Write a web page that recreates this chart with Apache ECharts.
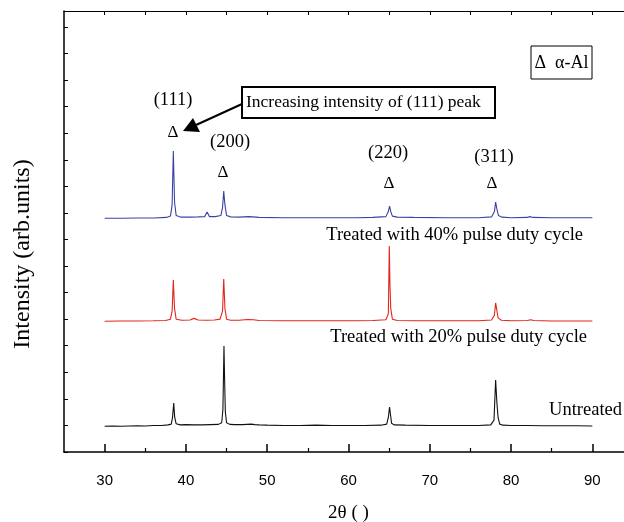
<!DOCTYPE html>
<html>
<head>
<meta charset="utf-8">
<script src="https://cdn.jsdelivr.net/npm/echarts@6/dist/echarts.min.js"></script>
<style>html,body{margin:0;padding:0;background:#fff}#chart{width:624px;height:522px}</style>
</head>
<body>
<div id="chart"></div>
<script>
// XRD patterns: [2theta (deg), intensity (arb. units, stacked offsets)]
const untreated = [[30,0.97],[31,0.98],[32,0.97],[33,0.98],[34,0.99],[35,0.98],[36,1.00],[37,1.00],[37.8,1.02],[38.2,1.05],[38.35,1.3],[38.5,1.84],[38.62,1.3],[38.8,1.06],[39.3,1.02],[40,1.03],[41,1.02],[42,1.02],[43,1.03],[44,1.04],[44.4,1.1],[44.55,1.6],[44.68,3.99],[44.76,2.71],[44.85,1.5],[45.0,1.1],[45.4,1.04],[46,1.03],[47,1.03],[48,1.05],[48.5,1.03],[49,1.02],[50,1.01],[52,1.0],[54,1.0],[56,1.01],[58,1.0],[60,1.0],[62,1.0],[64,1.01],[64.7,1.05],[64.9,1.3],[65.05,1.69],[65.15,1.45],[65.3,1.08],[65.6,1.02],[67,1.01],[70,1.0],[72,1.0],[74,1.0],[76,1.0],[77.5,1.02],[77.9,1.2],[78.1,2.71],[78.25,1.88],[78.4,1.3],[78.6,1.05],[79,1.01],[80,1.0],[82,1.0],[84,0.99],[86,0.99],[88,0.99],[90,0.98]];
const duty20 = [[30,4.92],[32,4.93],[34,4.93],[36,4.94],[37.5,4.95],[38.1,5.0],[38.3,5.3],[38.45,6.47],[38.6,5.4],[38.8,5.0],[39.5,4.96],[40.5,4.97],[41,5.03],[41.5,4.97],[42.5,4.96],[43.5,4.97],[44.2,5.0],[44.5,5.3],[44.65,6.51],[44.8,5.4],[45,5.0],[45.5,4.96],[46.5,4.96],[47.6,4.99],[48.3,4.98],[49,4.95],[52,4.94],[55,4.94],[58,4.94],[61,4.94],[63,4.95],[64.6,4.98],[64.9,5.2],[65.02,7.75],[65.1,6.29],[65.2,5.4],[65.4,5.0],[66,4.95],[68,4.94],[72,4.94],[76,4.94],[77.6,4.97],[77.95,5.15],[78.1,5.61],[78.25,5.34],[78.4,5.05],[78.8,4.96],[80,4.94],[82,4.95],[82.4,4.98],[82.8,4.95],[85,4.93],[88,4.93],[90,4.93]];
const duty40 = [[30,8.8],[32,8.8],[34,8.81],[36,8.81],[37.6,8.83],[38.1,8.88],[38.3,9.3],[38.45,11.33],[38.6,9.4],[38.8,8.9],[39.4,8.84],[40.5,8.84],[41.5,8.85],[42.3,8.86],[42.6,9.03],[42.9,8.86],[43.6,8.86],[44.3,8.9],[44.5,9.2],[44.65,9.82],[44.8,9.3],[45.0,8.9],[45.5,8.85],[46.5,8.84],[47.8,8.86],[49,8.83],[52,8.82],[55,8.82],[58,8.82],[61,8.82],[63,8.83],[64.6,8.86],[64.9,9.05],[65.05,9.26],[65.2,9.05],[65.4,8.88],[66,8.84],[68,8.83],[72,8.82],[76,8.82],[77.6,8.85],[77.95,9.05],[78.1,9.41],[78.25,9.15],[78.45,8.9],[78.9,8.84],[80,8.82],[82,8.83],[82.3,8.86],[82.7,8.83],[85,8.82],[88,8.82],[90,8.82]];

const majorTicks = [30, 40, 50, 60, 70, 80, 90];
const minorTicks = [35, 45, 55, 65, 75, 85];
const topTicks = [30, 35, 40, 45, 50, 55, 60, 65, 70, 75, 80, 85, 90];
const seriesNames = ['Untreated', 'Treated with 20% pulse duty cycle', 'Treated with 40% pulse duty cycle'];

const serif = '"Liberation Serif", "Times New Roman", serif';
const sans = '"Liberation Sans", Arial, sans-serif';

const chart = echarts.init(document.getElementById('chart'));

function txt(x, y, text, size, align) {
  return { type: 'text', x: x, y: y, style: { text: text, font: size + 'px ' + serif, fill: '#000', align: align || 'center', verticalAlign: 'middle' } };
}

chart.setOption({
  animation: false,
  backgroundColor: '#fff',
  grid: { left: 64, top: 11, width: 569, height: 441, containLabel: false, outerBoundsMode: 'none' },
  xAxis: [
    {
      type: 'value', position: 'bottom', min: 25, max: 95,
      name: '2θ ( )', nameLocation: 'middle', nameGap: 52,
      nameTextStyle: { fontFamily: serif, fontSize: 19, color: '#000' },
      axisLine: { show: true, onZero: false, lineStyle: { color: '#000', width: 1.5 } },
      axisTick: { show: true, inside: true, length: 8, customValues: majorTicks, lineStyle: { color: '#000', width: 1.5 } },
      axisLabel: { show: true, customValues: majorTicks, margin: 21, fontFamily: sans, fontSize: 15, color: '#000' },
      splitLine: { show: false }
    },
    {
      type: 'value', position: 'bottom', min: 25, max: 95,
      axisLine: { show: false },
      axisTick: { show: true, inside: true, length: 4, customValues: minorTicks, lineStyle: { color: '#000', width: 1.2 } },
      axisLabel: { show: false },
      splitLine: { show: false }
    },
    {
      type: 'value', position: 'top', min: 25, max: 95,
      axisLine: { show: true, onZero: false, lineStyle: { color: '#000', width: 1.2 } },
      axisTick: { show: true, inside: true, length: 4, customValues: topTicks, lineStyle: { color: '#000', width: 1 } },
      axisLabel: { show: false },
      splitLine: { show: false }
    }
  ],
  yAxis: [{
    type: 'value', min: 0, max: 16.6, interval: 1,
    axisLine: { show: true, onZero: false, lineStyle: { color: '#000', width: 1.5 } },
    axisTick: { show: true, inside: true, length: 4, lineStyle: { color: '#000', width: 1 } },
    axisLabel: { show: false },
    splitLine: { show: false }
  }],
  series: [
    { name: seriesNames[0], type: 'line', data: untreated, showSymbol: false, lineStyle: { color: '#111111', width: 1.1 } },
    { name: seriesNames[1], type: 'line', data: duty20, showSymbol: false, lineStyle: { color: '#e0261d', width: 1.1 } },
    { name: seriesNames[2], type: 'line', data: duty40, showSymbol: false, lineStyle: { color: '#3a42a8', width: 1.1 } }
  ],
  graphic: [
    // vertical axis title
    { type: 'text', x: 23, y: 254, rotation: Math.PI / 2,
      style: { text: 'Intensity (arb.units)', font: '24px ' + serif, fill: '#000', align: 'center', verticalAlign: 'middle' } },
    // peak indices and alpha-Al markers
    txt(173, 100, '(111)', 18.5), txt(173, 133, 'Δ', 17),
    txt(230, 142, '(200)', 18.5), txt(223, 173, 'Δ', 17),
    txt(388, 153, '(220)', 18.5), txt(389, 184, 'Δ', 17),
    txt(494, 157, '(311)', 18.5), txt(492, 184, 'Δ', 17),
    // phase key
    { type: 'rect', shape: { x: 531, y: 46, width: 61, height: 33 }, style: { fill: '#fff', stroke: '#000', lineWidth: 1 } },
    txt(561.5, 63, 'Δ  α-Al', 18),
    // callout
    { type: 'rect', shape: { x: 242, y: 87, width: 253, height: 31 }, style: { fill: '#fff', stroke: '#000', lineWidth: 2 } },
    txt(246, 102.5, 'Increasing intensity of (111) peak', 17.5, 'left'),
    { type: 'line', shape: { x1: 242, y1: 104, x2: 196, y2: 125 }, style: { stroke: '#000', lineWidth: 2 } },
    { type: 'polygon', shape: { points: [[183, 131], [193, 118], [200, 132]] }, style: { fill: '#000' } },
    // trace captions
    txt(583, 235, seriesNames[2], 18.5, 'right'),
    txt(587, 337, seriesNames[1], 18.5, 'right'),
    txt(622, 410, seriesNames[0], 18.5, 'right')
  ]
});
</script>
</body>
</html>
